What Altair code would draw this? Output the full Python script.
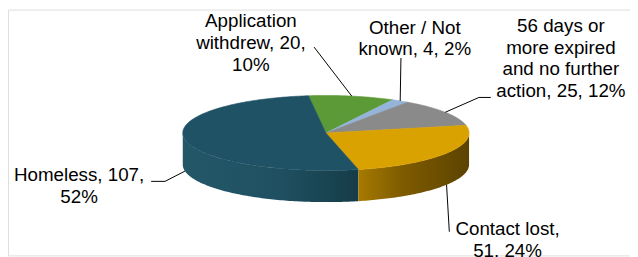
import altair as alt
import numpy as np
import pandas as pd

# ---- data ----
categories = ["Application withdrew", "Other / Not known",
              "56 days or more expired and no further action",
              "Contact lost", "Homeless"]
values = [20, 4, 25, 51, 107]
percents = [10, 2, 12, 24, 52]

# ---- style / layout ----
top_colors = ["#5B9A36", "#94B4D9", "#8A8A8A", "#D9A200", "#1F5264"]
side_gradients = {
    "Homeless": [("#235869", 0), ("#1F5061", 0.55), ("#163C48", 1)],
    "Contact lost": [("#A67A00", 0), ("#7E5B00", 0.4), ("#5B4300", 1)],
}
words_per_line = [[1, 2, 1], [3, 3], [3, 2, 3, 3], [2, 2], [2, 1]]
label_pos = [(254, 11), (420, 17.5), (568, 15.5), (514, 221.5), (80, 167)]
leader_pts = [[(318, 46)], [(406, 57)], [(497, 97), (485, 97)], [(455, 233)], [(153, 182), (167, 182)]]
CX, CY, RX, RY, DEPTH, START = 330, 133, 145, 38, 32, -97.0

shares = np.array(values, dtype=float) / sum(values) * 360.0
ends = START + np.cumsum(shares)
starts = ends - shares


def ell(t):
    r = np.radians(t)
    return CX + RX * np.cos(r), CY + RY * np.sin(r)


# top faces
top_rows = []
for cat, a, b in zip(categories, starts, ends):
    ts = np.linspace(a, b, max(int(abs(b - a)) + 2, 3))
    k = 0
    top_rows.append(dict(cat=cat, x=CX, y=CY, o=k)); k += 1
    for t in ts:
        x, y = ell(t)
        top_rows.append(dict(cat=cat, x=x, y=y, o=k)); k += 1
    top_rows.append(dict(cat=cat, x=CX, y=CY, o=k))
top_df = pd.DataFrame(top_rows)

# side faces (front half only: 0..180 deg)
side_rows = []
for cat, a, b in zip(categories, starts, ends):
    for off in (-360, 0, 360):
        lo, hi = max(a, 0 + off), min(b, 180 + off)
        if hi > lo:
            ts = np.linspace(lo, hi, max(int(hi - lo) + 2, 3))
            k = 0
            for t in ts:
                x, y = ell(t)
                side_rows.append(dict(cat=cat, x=x, y=y, o=k)); k += 1
            for t in ts[::-1]:
                x, y = ell(t)
                side_rows.append(dict(cat=cat, x=x, y=y + DEPTH, o=k)); k += 1
side_df = pd.DataFrame(side_rows)

# leader lines
lead_rows = []
for cat, a, b, pts in zip(categories, starts, ends, leader_pts):
    mid = (a + b) / 2
    ax, ay = ell(mid)
    if np.sin(np.radians(mid)) > 0:
        ay += DEPTH
    k = 0
    for (px, py) in pts:
        lead_rows.append(dict(cat=cat, x=px, y=py, o=k)); k += 1
    lead_rows.append(dict(cat=cat, x=ax, y=ay, o=k))
lead_df = pd.DataFrame(lead_rows)

# labels
lab_rows = []
for cat, v, p, wpl, (lx, ly) in zip(categories, values, percents, words_per_line, label_pos):
    words = f"{cat}, {v}, {p}%".split(" ")
    lines, i = [], 0
    for n in wpl:
        lines.append(" ".join(words[i:i + n])); i += n
    lab_rows.append(dict(cat=cat, x=lx, y=ly, text="\n".join(lines)))
lab_df = pd.DataFrame(lab_rows)

xs = alt.Scale(domain=[8, 638], nice=False, zero=False)
ys = alt.Scale(domain=[8, 257], nice=False, zero=False, reverse=True)
X = alt.X("x:Q", scale=xs, axis=None)
Y = alt.Y("y:Q", scale=ys, axis=None)

layers = []
for cat, stops in side_gradients.items():
    grad = alt.LinearGradient(
        gradient="linear",
        stops=[alt.GradientStop(color=c, offset=o) for c, o in stops],
        x1=0, x2=1, y1=0, y2=0)
    layers.append(
        alt.Chart(side_df[side_df["cat"] == cat])
        .mark_line(fill=grad, strokeWidth=0, strokeOpacity=0)
        .encode(x=X, y=Y, order=alt.Order("o:Q"))
    )

cscale = alt.Scale(domain=categories, range=top_colors)
layers.append(
    alt.Chart(top_df).mark_line(strokeWidth=0.6).encode(
        x=X, y=Y,
        fill=alt.Fill("cat:N", scale=cscale, legend=None),
        stroke=alt.Stroke("cat:N", scale=cscale, legend=None),
        order=alt.Order("o:Q"))
)
layers.append(
    alt.Chart(lead_df).mark_line(color="#000000", strokeWidth=1).encode(
        x=X, y=Y, detail="cat:N", order=alt.Order("o:Q"))
)
layers.append(
    alt.Chart(lab_df).mark_text(
        font="Liberation Sans", fontSize=19, color="#000000",
        align="center", baseline="top", lineBreak="\n", lineHeight=22
    ).encode(x=X, y=Y, text="text:N")
)

chart = alt.layer(*layers).properties(
    width=630, height=249, padding=0, autosize="none"
).configure_view(stroke=None).configure(background="white")

chart.save("out.html", embed_options={"renderer": "svg", "actions": False})
